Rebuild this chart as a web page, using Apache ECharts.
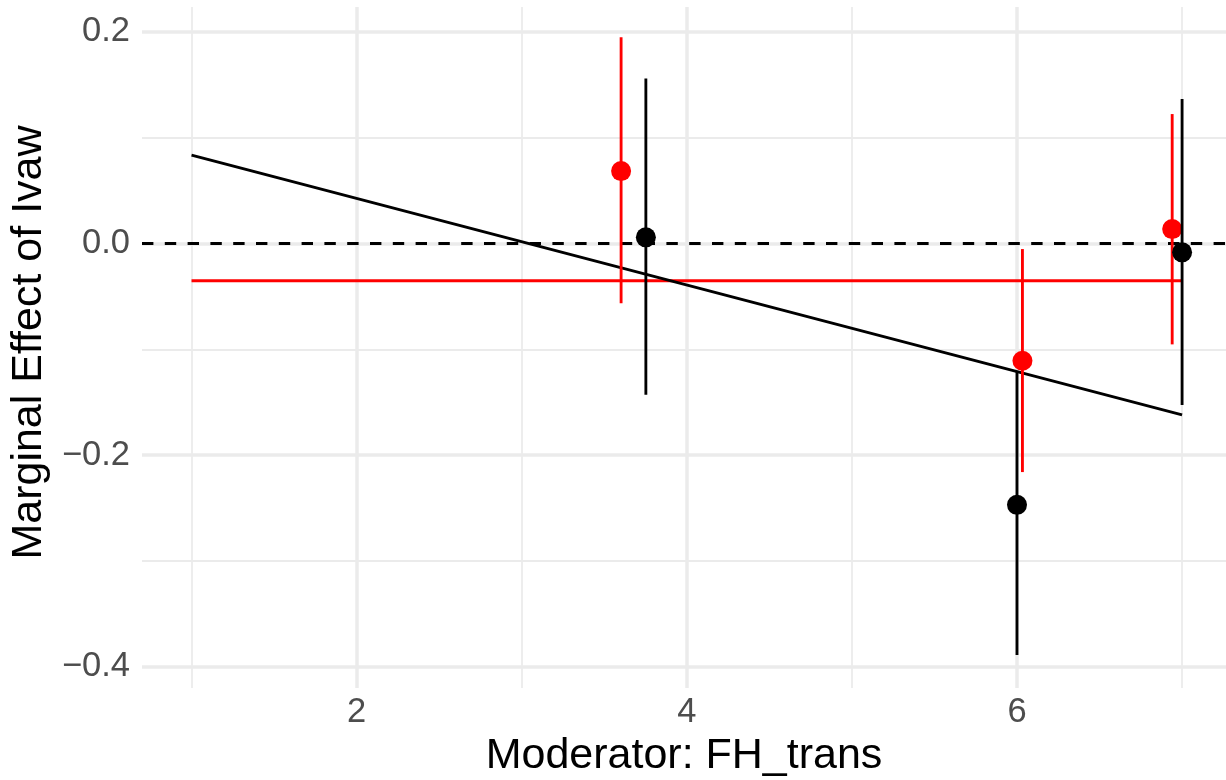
<!DOCTYPE html>
<html>
<head>
<meta charset="utf-8">
<script src="https://cdn.jsdelivr.net/npm/echarts@6/dist/echarts.min.js"></script>
<style>
  html, body { margin: 0; padding: 0; background: #ffffff; }
  #chart { width: 1226px; height: 780px; }
</style>
</head>
<body>
<div id="chart"></div>
<script>
// ---- data ----
var redX   = [3.602, 6.033, 6.94];
var redY   = [0.0685, -0.1108, 0.0137];
var redLo  = [-0.0565, -0.216, -0.0953];
var redHi  = [0.195, -0.0052, 0.1224];

var blackX  = [3.752, 6.0, 7.0];
var blackY  = [0.0059, -0.247, -0.0083];
var blackLo = [-0.143, -0.389, -0.1527];
var blackHi = [0.156, -0.121, 0.1366];

var fitX = [1, 7];
var fitY = [0.0837, -0.162];
var meanX = [1, 7];
var meanY = [-0.0352, -0.0352];
var zeroY = 0;

var xTicks = [2, 4, 6];
var xTickLabels = ['2', '4', '6'];
var xMinor = [1, 3, 5, 7];
var yTicks = [-0.4, -0.2, 0, 0.2];
var yTickLabels = ['\u22120.4', '\u22120.2', '0.0', '0.2'];
var yMinor = [-0.3, -0.1, 0.1];

var xTitle = 'Moderator: FH_trans';
var yTitle = 'Marginal Effect of Ivaw';

// ---- build ----
var FONT = '"Liberation Sans", Arial, Helvetica, sans-serif';
var GRID = '#ebebeb';
var LW = 2.85;

function zip(xs, ys) { return xs.map(function (x, i) { return [x, ys[i]]; }); }
function bars(xs, lo, hi) { return xs.map(function (x, i) { return [x, lo[i], hi[i]]; }); }
function labelFor(ticks, labels) {
  return function (v) {
    for (var i = 0; i < ticks.length; i++) if (Math.abs(ticks[i] - v) < 1e-9) return labels[i];
    return '';
  };
}
function errRender(color) {
  return function (params, api) {
    var p1 = api.coord([api.value(0), api.value(1)]);
    var p2 = api.coord([api.value(0), api.value(2)]);
    return { type: 'line', shape: { x1: p1[0], y1: p1[1], x2: p2[0], y2: p2[1] },
             style: { stroke: color, lineWidth: LW } };
  };
}

var gridLines = []
  .concat(xMinor.map(function (v) { return { xAxis: v, lineStyle: { width: 1.8 } }; }))
  .concat(yMinor.map(function (v) { return { yAxis: v, lineStyle: { width: 1.8 } }; }))
  .concat(xTicks.map(function (v) { return { xAxis: v, lineStyle: { width: 3.5 } }; }))
  .concat(yTicks.map(function (v) { return { yAxis: v, lineStyle: { width: 3.5 } }; }));

var chart = echarts.init(document.getElementById('chart'), null, { renderer: 'canvas' });
chart.setOption({
  animation: false,
  backgroundColor: '#ffffff',
  grid: { left: 142, right: 0, top: 7, bottom: 92, containLabel: false, outerBoundsMode: 'none' },
  xAxis: {
    type: 'value', min: 0.7, max: 7.266,
    name: xTitle, nameLocation: 'middle', nameGap: 44.5,
    nameTextStyle: { fontFamily: FONT, fontSize: 43, color: '#000000' },
    axisLine: { show: false }, axisTick: { show: false }, splitLine: { show: false },
    axisLabel: { customValues: xTicks, formatter: labelFor(xTicks, xTickLabels),
                 fontFamily: FONT, fontSize: 34.5, color: '#4d4d4d', margin: 7 }
  },
  yAxis: {
    type: 'value', min: -0.4201, max: 0.2236,
    name: yTitle, nameLocation: 'middle', nameGap: 90.5,
    nameTextStyle: { fontFamily: FONT, fontSize: 43, color: '#000000', padding: [0, 0, 0, 10] },
    axisLine: { show: false }, axisTick: { show: false }, splitLine: { show: false },
    axisLabel: { customValues: yTicks, formatter: labelFor(yTicks, yTickLabels),
                 fontFamily: FONT, fontSize: 34.5, color: '#4d4d4d', margin: 12 }
  },
  series: [
    { type: 'line', data: [], silent: true, z: 0,
      markLine: { silent: true, z: 0, symbol: ['none', 'none'], label: { show: false },
                  lineStyle: { color: GRID, type: 'solid' }, data: gridLines } },
    { type: 'line', data: [], silent: true, z: 1,
      markLine: { silent: true, z: 1, symbol: ['none', 'none'], label: { show: false },
                  lineStyle: { color: '#000000', type: [11.4, 11.4], width: LW },
                  data: [{ yAxis: zeroY }] } },
    { type: 'line', data: zip(meanX, meanY), showSymbol: false, silent: true, z: 2,
      lineStyle: { color: '#ff0000', width: LW } },
    { type: 'line', data: zip(fitX, fitY), showSymbol: false, silent: true, z: 2,
      lineStyle: { color: '#000000', width: LW } },
    { type: 'custom', data: bars(redX, redLo, redHi), renderItem: errRender('#ff0000'), silent: true, z: 3 },
    { type: 'scatter', data: zip(redX, redY), symbol: 'circle', symbolSize: 20, silent: true, z: 4,
      itemStyle: { color: '#ff0000', opacity: 1 } },
    { type: 'custom', data: bars(blackX, blackLo, blackHi), renderItem: errRender('#000000'), silent: true, z: 5 },
    { type: 'scatter', data: zip(blackX, blackY), symbol: 'circle', symbolSize: 20, silent: true, z: 6,
      itemStyle: { color: '#000000', opacity: 1 } }
  ]
});
</script>
</body>
</html>
